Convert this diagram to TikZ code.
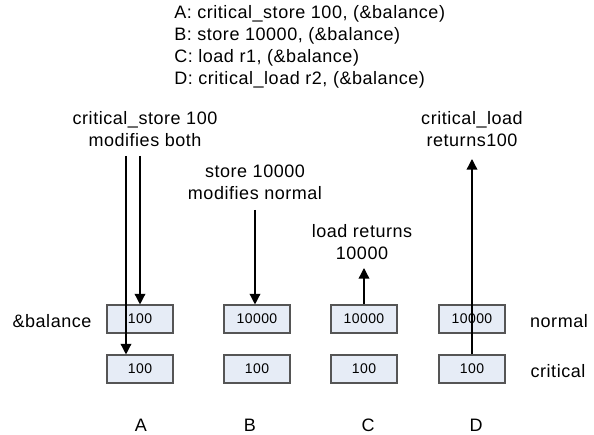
\documentclass[tikz,border=0pt]{standalone}
\usepackage{fontspec}
\setmainfont[LetterSpace=3]{Liberation Sans}
\usetikzlibrary{arrows.meta}
\definecolor{cellfill}{HTML}{E6ECF6}
\definecolor{cellline}{HTML}{555555}
\begin{document}
\begin{tikzpicture}[x=0.75pt,y=-0.75pt,
	every node/.style={font=\fontsize{13.5}{16.5}\selectfont},
	cell/.style={draw=cellline, fill=cellfill, line width=0.8pt,
		font=\fontsize{10.5}{12}\selectfont,
		minimum width=49.5pt, minimum height=21pt, inner sep=0pt},
	txt/.style={align=center, inner sep=0pt},
	ptr/.style={-{Triangle[length=8pt,width=8pt]}, line width=1pt}]
\useasboundingbox (0,0) rectangle (594,435);
% header
\node[anchor=north west, align=left, inner sep=0pt] (hdr) at (174,5)
	{A: critical\_store 100, (\&balance)\\
	 B: store 10000, (\&balance)\\
	 C: load r1, (\&balance)\\
	 D: critical\_load r2, (\&balance)};
% memory cells
\node[cell] (na) at (140,319) {100};
\node[cell] (nb) at (257,319) {10000};
\node[cell] (nc) at (364,319) {10000};
\node[cell] (nd) at (472,319) {10000};
\node[cell] (ca) at (140,369) {100};
\node[cell] (cb) at (257,369) {100};
\node[cell] (cc) at (364,369) {100};
\node[cell] (cd) at (472,369) {100};
\node (bal) at (52,321) {\&balance};
\node (nrm) at (559,321) {normal};
\node (crt) at (558,371) {critical};
% column names
\foreach \c/\x in {A/141,B/250,C/368,D/476}
	\node (col\c) at (\x,425) {\c};
% instructions
\node[txt] (lblA) at (145,129) {critical\_store 100\\modifies both};
\node[txt] (lblB) at (255,182) {store 10000\\modifies normal};
\node[txt] (lblC) at (362,242) {load returns\\10000};
\node[txt] (lblD) at (472,129) {critical\_load\\returns100};
\coordinate (sA1) at (126,156);
\coordinate (sA2) at (140,156);
\coordinate (sB) at (255,210);
\coordinate (eC) at (364,268);
\coordinate (eD) at (472,159);
\draw[ptr] (sA1) -- (sA1 |- ca.north);
\draw[ptr] (sA2) -- (sA2 |- na.north);
\draw[ptr] (sB) -- (sB |- nb.north);
\draw[ptr] (nc.north) -- (eC);
\draw[ptr] (cd.north) -- (eD);
\end{tikzpicture}
\end{document}
